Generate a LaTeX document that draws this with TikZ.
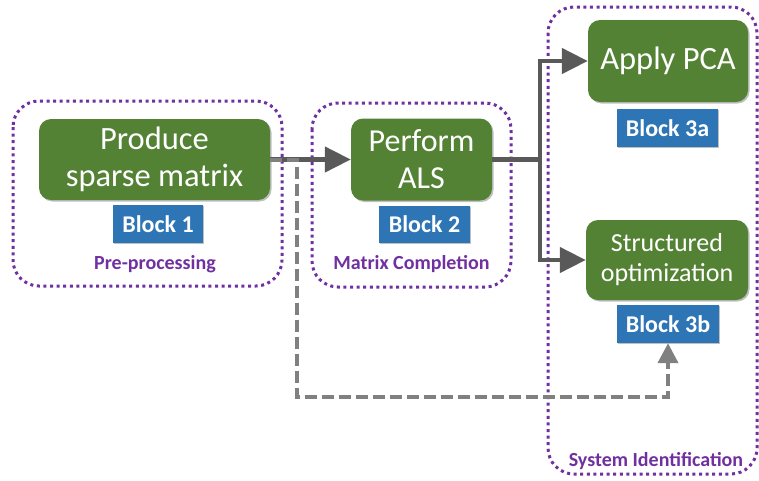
\documentclass[tikz,border=0pt]{standalone}
\usepackage{fontspec}
\setmainfont{Carlito}
\usetikzlibrary{arrows.meta,shadows,calc}
\definecolor{boxgreen}{HTML}{548235}
\definecolor{boxblue}{HTML}{2E75B6}
\definecolor{grpurple}{HTML}{7030A0}
\definecolor{arrdark}{HTML}{595959}
\definecolor{arrgray}{HTML}{808080}
\begin{document}
\begin{tikzpicture}[x=1pt,y=-1pt,
  greenbox/.style={fill=boxgreen, rounded corners=12pt, text=white, align=center, inner sep=0pt,
     drop shadow={shadow xshift=1.5pt, shadow yshift=-1.5pt, fill=black, opacity=0.25}},
  bluebox/.style={fill=boxblue, text=white, font=\fontsize{24}{28}\selectfont\bfseries, inner sep=0pt,
     drop shadow={shadow xshift=1.2pt, shadow yshift=-1.2pt, fill=black, opacity=0.25}},
  group/.style={draw=grpurple, line width=3pt, dash pattern=on 3pt off 3.6pt, rounded corners=26pt},
  grouplabel/.style={text=grpurple, font=\fontsize{20}{24}\selectfont\bfseries, inner sep=0pt},
  solidarr/.style={draw=arrdark, line width=4.5pt, -{Triangle[length=26pt,width=25pt]}},
  dasharr/.style={draw=arrgray, line width=4pt, dash pattern=on 12pt off 5pt, -{Triangle[length=20pt,width=20pt]}}
]
\useasboundingbox (0,0) rectangle (759,480);

% groups
\draw[group] (13,101) rectangle (282,286);
\draw[group] (312,103) rectangle (511,287);
\draw[group] (548,7) rectangle (757,474);
\node[grouplabel] (g1) at (155,264) {Pre-processing};
\node[grouplabel] (g2) at (411.5,264) {Matrix Completion};
\node[grouplabel] (g3) at (656,461) {System Identification};

% boxes
\node[greenbox, minimum width=231pt, minimum height=81pt, font=\fontsize{32.5}{37}\selectfont] (b1) at (154.5,159.5) {Produce\\sparse matrix};
\node[bluebox, minimum width=90pt, minimum height=38pt] (k1) at (158,224) {Block 1};
\node[greenbox, minimum width=141pt, minimum height=82pt, font=\fontsize{32}{37}\selectfont] (b2) at (421.5,159.5) {Perform\\ALS};
\node[bluebox, minimum width=91pt, minimum height=37pt] (k2) at (424.5,224.5) {Block 2};
\node[greenbox, minimum width=160pt, minimum height=82pt, font=\fontsize{32.5}{37}\selectfont] (b3a) at (668,61) {Apply PCA};
\node[bluebox, minimum width=101pt, minimum height=38pt] (k3a) at (667.5,128) {Block 3a};
\node[greenbox, minimum width=162pt, minimum height=80pt, font=\fontsize{26}{30}\selectfont] (b3b) at (667,260) {Structured\\optimization};
\node[bluebox, minimum width=102pt, minimum height=38pt] (k3b) at (668,324) {Block 3b};

% connectors
\coordinate (br) at (540,159.5);
\coordinate (dc) at (297,397);
\draw[solidarr] (b1.east) -- (b2.west);
\draw[draw=arrdark, line width=4.5pt] (b2.east) -- (br);
\draw[solidarr] (br) |- (b3a.west);
\draw[solidarr] (br) |- (b3b.west);
\draw[dasharr] (b1.east) -| (dc) -| (k3b.south);
\end{tikzpicture}
\end{document}
